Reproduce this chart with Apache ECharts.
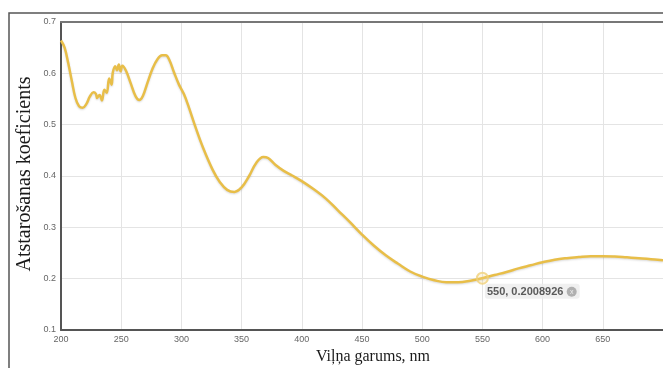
<!DOCTYPE html>
<html>
<head>
<meta charset="utf-8">
<script src="https://cdn.jsdelivr.net/npm/echarts@6/dist/echarts.min.js"></script>
<style>
html,body{margin:0;padding:0;background:#fff;overflow:hidden;}
#c{width:663px;height:368px;}
</style>
</head>
<body>
<div id="c"></div>
<script>
const wavelengths = [200,203,206,209,212,215,218,221,224,227,229,230,232,234,236,238,240,242,243,245,246.5,248,249.5,251,254,258,262,265,268,272,276,280,284,287,290,294,298,302,306,311,318,326,332,338,344,350,356,362,368,372,378,385,392,400,410,420,430,440,450,460,470,480,490,500,510,520,530,540,550,560,570,580,590,600,610,620,630,640,650,660,670,680,690,700];
const reflectance = [0.664,0.650,0.620,0.585,0.552,0.536,0.533,0.540,0.555,0.563,0.560,0.552,0.558,0.547,0.568,0.562,0.590,0.578,0.601,0.614,0.606,0.617,0.604,0.615,0.605,0.580,0.555,0.548,0.556,0.583,0.609,0.627,0.635,0.635,0.626,0.601,0.578,0.560,0.535,0.500,0.455,0.412,0.388,0.373,0.369,0.378,0.399,0.425,0.437,0.435,0.422,0.410,0.401,0.390,0.374,0.356,0.333,0.310,0.286,0.264,0.245,0.229,0.214,0.204,0.197,0.193,0.193,0.196,0.2009,0.207,0.213,0.220,0.226,0.232,0.237,0.240,0.242,0.2435,0.2437,0.243,0.2415,0.240,0.238,0.236];
const markedPoint = [550, 0.2008926];
const xTicks = [200,250,300,350,400,450,500,550,600,650,700];
const yTicks = [0.1,0.2,0.3,0.4,0.5,0.6,0.7];

const chart = echarts.init(document.getElementById('c'));
const lineData = wavelengths.map((w,i)=>[w, reflectance[i]]);
chart.setOption({
  animation:false,
  backgroundColor:'#fff',
  grid:{left:61,top:22,width:605,height:308,show:false},
  xAxis:[{type:'value',min:xTicks[0],max:xTicks[xTicks.length-1],interval:50,
    axisLine:{show:true,lineStyle:{color:'#555',width:2}},
    axisTick:{show:false},
    splitLine:{show:true,lineStyle:{color:'#e4e4e4',width:1}},
    axisLabel:{color:'#666',fontSize:9,fontFamily:'Liberation Sans',margin:5,showMaxLabel:false}},
   {type:'value',position:'top',min:xTicks[0],max:xTicks[xTicks.length-1],interval:50,
    axisLine:{show:true,lineStyle:{color:'#777',width:2}},
    axisTick:{show:false},splitLine:{show:false},axisLabel:{show:false}}],
  yAxis:{type:'value',min:yTicks[0],max:yTicks[yTicks.length-1],interval:0.1,
    axisLine:{show:true,lineStyle:{color:'#555',width:2}},
    axisTick:{show:false},
    splitLine:{show:true,lineStyle:{color:'#e4e4e4',width:1}},
    axisLabel:{color:'#666',fontSize:9,fontFamily:'Liberation Sans',margin:5,formatter:v=>v.toFixed(1)}},
  graphic:[
    {type:'rect',shape:{x:9,y:13,width:700,height:400},style:{fill:'none',stroke:'#555',lineWidth:1.5},silent:true,z:-1},
    {type:'text',x:25,y:174,rotation:Math.PI/2,style:{text:'Atstarošanas koeficients',font:'20px "Liberation Serif"',fill:'#1a1a1a',align:'center',verticalAlign:'middle'}},
    {type:'text',x:373,y:357,style:{text:'Viļņa garums, nm',font:'16px "Liberation Serif"',fill:'#1a1a1a',align:'center',verticalAlign:'middle'}}
  ],
  series:[
    {type:'line',data:lineData,smooth:0.4,symbol:'none',
     lineStyle:{color:'#e8be48',width:2.5,shadowColor:'rgba(0,0,0,0.15)',shadowBlur:2,shadowOffsetY:1},z:3},
    {type:'scatter',data:[markedPoint],symbol:'circle',symbolSize:11,
     itemStyle:{color:'rgba(245,220,140,0.3)',borderColor:'#f0d17a',borderWidth:2},z:4,
     label:{show:true,position:[9,12],
       formatter:p=>'{t|'+p.value[0]+', '+p.value[1]+'} {x|x}',
       backgroundColor:'#ececec',borderRadius:3,padding:[2,3,1,2],
       rich:{t:{fontFamily:'Liberation Sans',fontSize:11,fontWeight:'bold',color:'#333'},
             x:{fontFamily:'Liberation Sans',fontSize:7,color:'#fff',backgroundColor:'#a0a0a0',borderRadius:5,width:10,height:10,align:'center',lineHeight:10}}}}
  ]
});
</script>
</body>
</html>
